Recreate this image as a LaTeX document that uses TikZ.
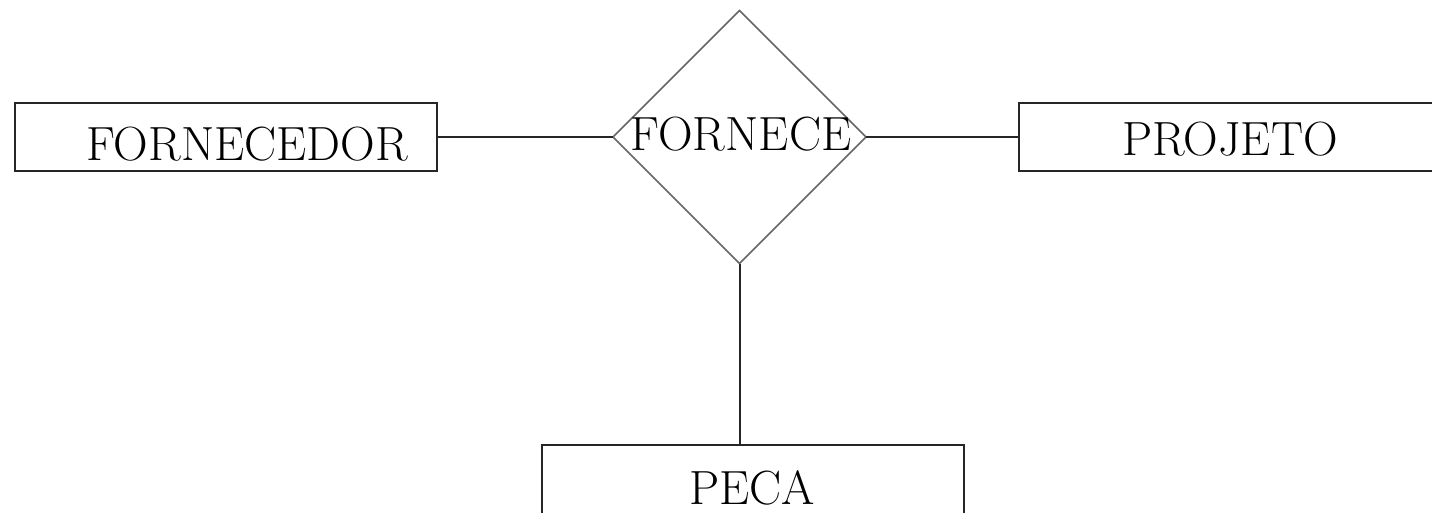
\documentclass[tikz,border=0pt]{standalone}
\usetikzlibrary{shapes.geometric}
\begin{document}
\begin{tikzpicture}[x=1pt,y=-1pt,
  entity/.style={draw=black!85, line width=2pt, rectangle, minimum width=422pt, minimum height=68pt, inner sep=0pt, outer sep=0pt},
  relation/.style={draw=black!60, line width=1.5pt, diamond, minimum width=253pt, minimum height=253pt, inner sep=0pt, outer sep=0pt},
  lbl/.style={font=\fontsize{48}{58}\selectfont, inner sep=0pt, anchor=base, text depth=0pt},
  conn/.style={draw=black!85, line width=2pt}]
\useasboundingbox (0,0) rectangle (1432,512);
\clip (0,0) rectangle (1432,512);
\fill[white] (0,0) rectangle (1432,512);
\node[entity] (fornecedor) at (226,137) {};
\node[entity] (projeto) at (1230,137) {};
\node[entity, minimum height=90pt] (peca) at (752.5,490) {};
\node[relation] (fornece) at (739.5,137) {};
\node[lbl] (tfornecedor) at (247,160) {FORNECEDOR};
\node[lbl] (tprojeto) at (1230,155) {PROJETO};
\node[lbl] (tpeca) at (752,504) {PECA};
\node[lbl] (tfornece) at (741,150) {FORNECE};
\draw[conn] (fornecedor.east) -- (fornece.west);
\draw[conn] (fornece.east) -- (projeto.west);
\draw[conn] (fornece.south) -- (fornece.south |- peca.north);
\end{tikzpicture}
\end{document}
